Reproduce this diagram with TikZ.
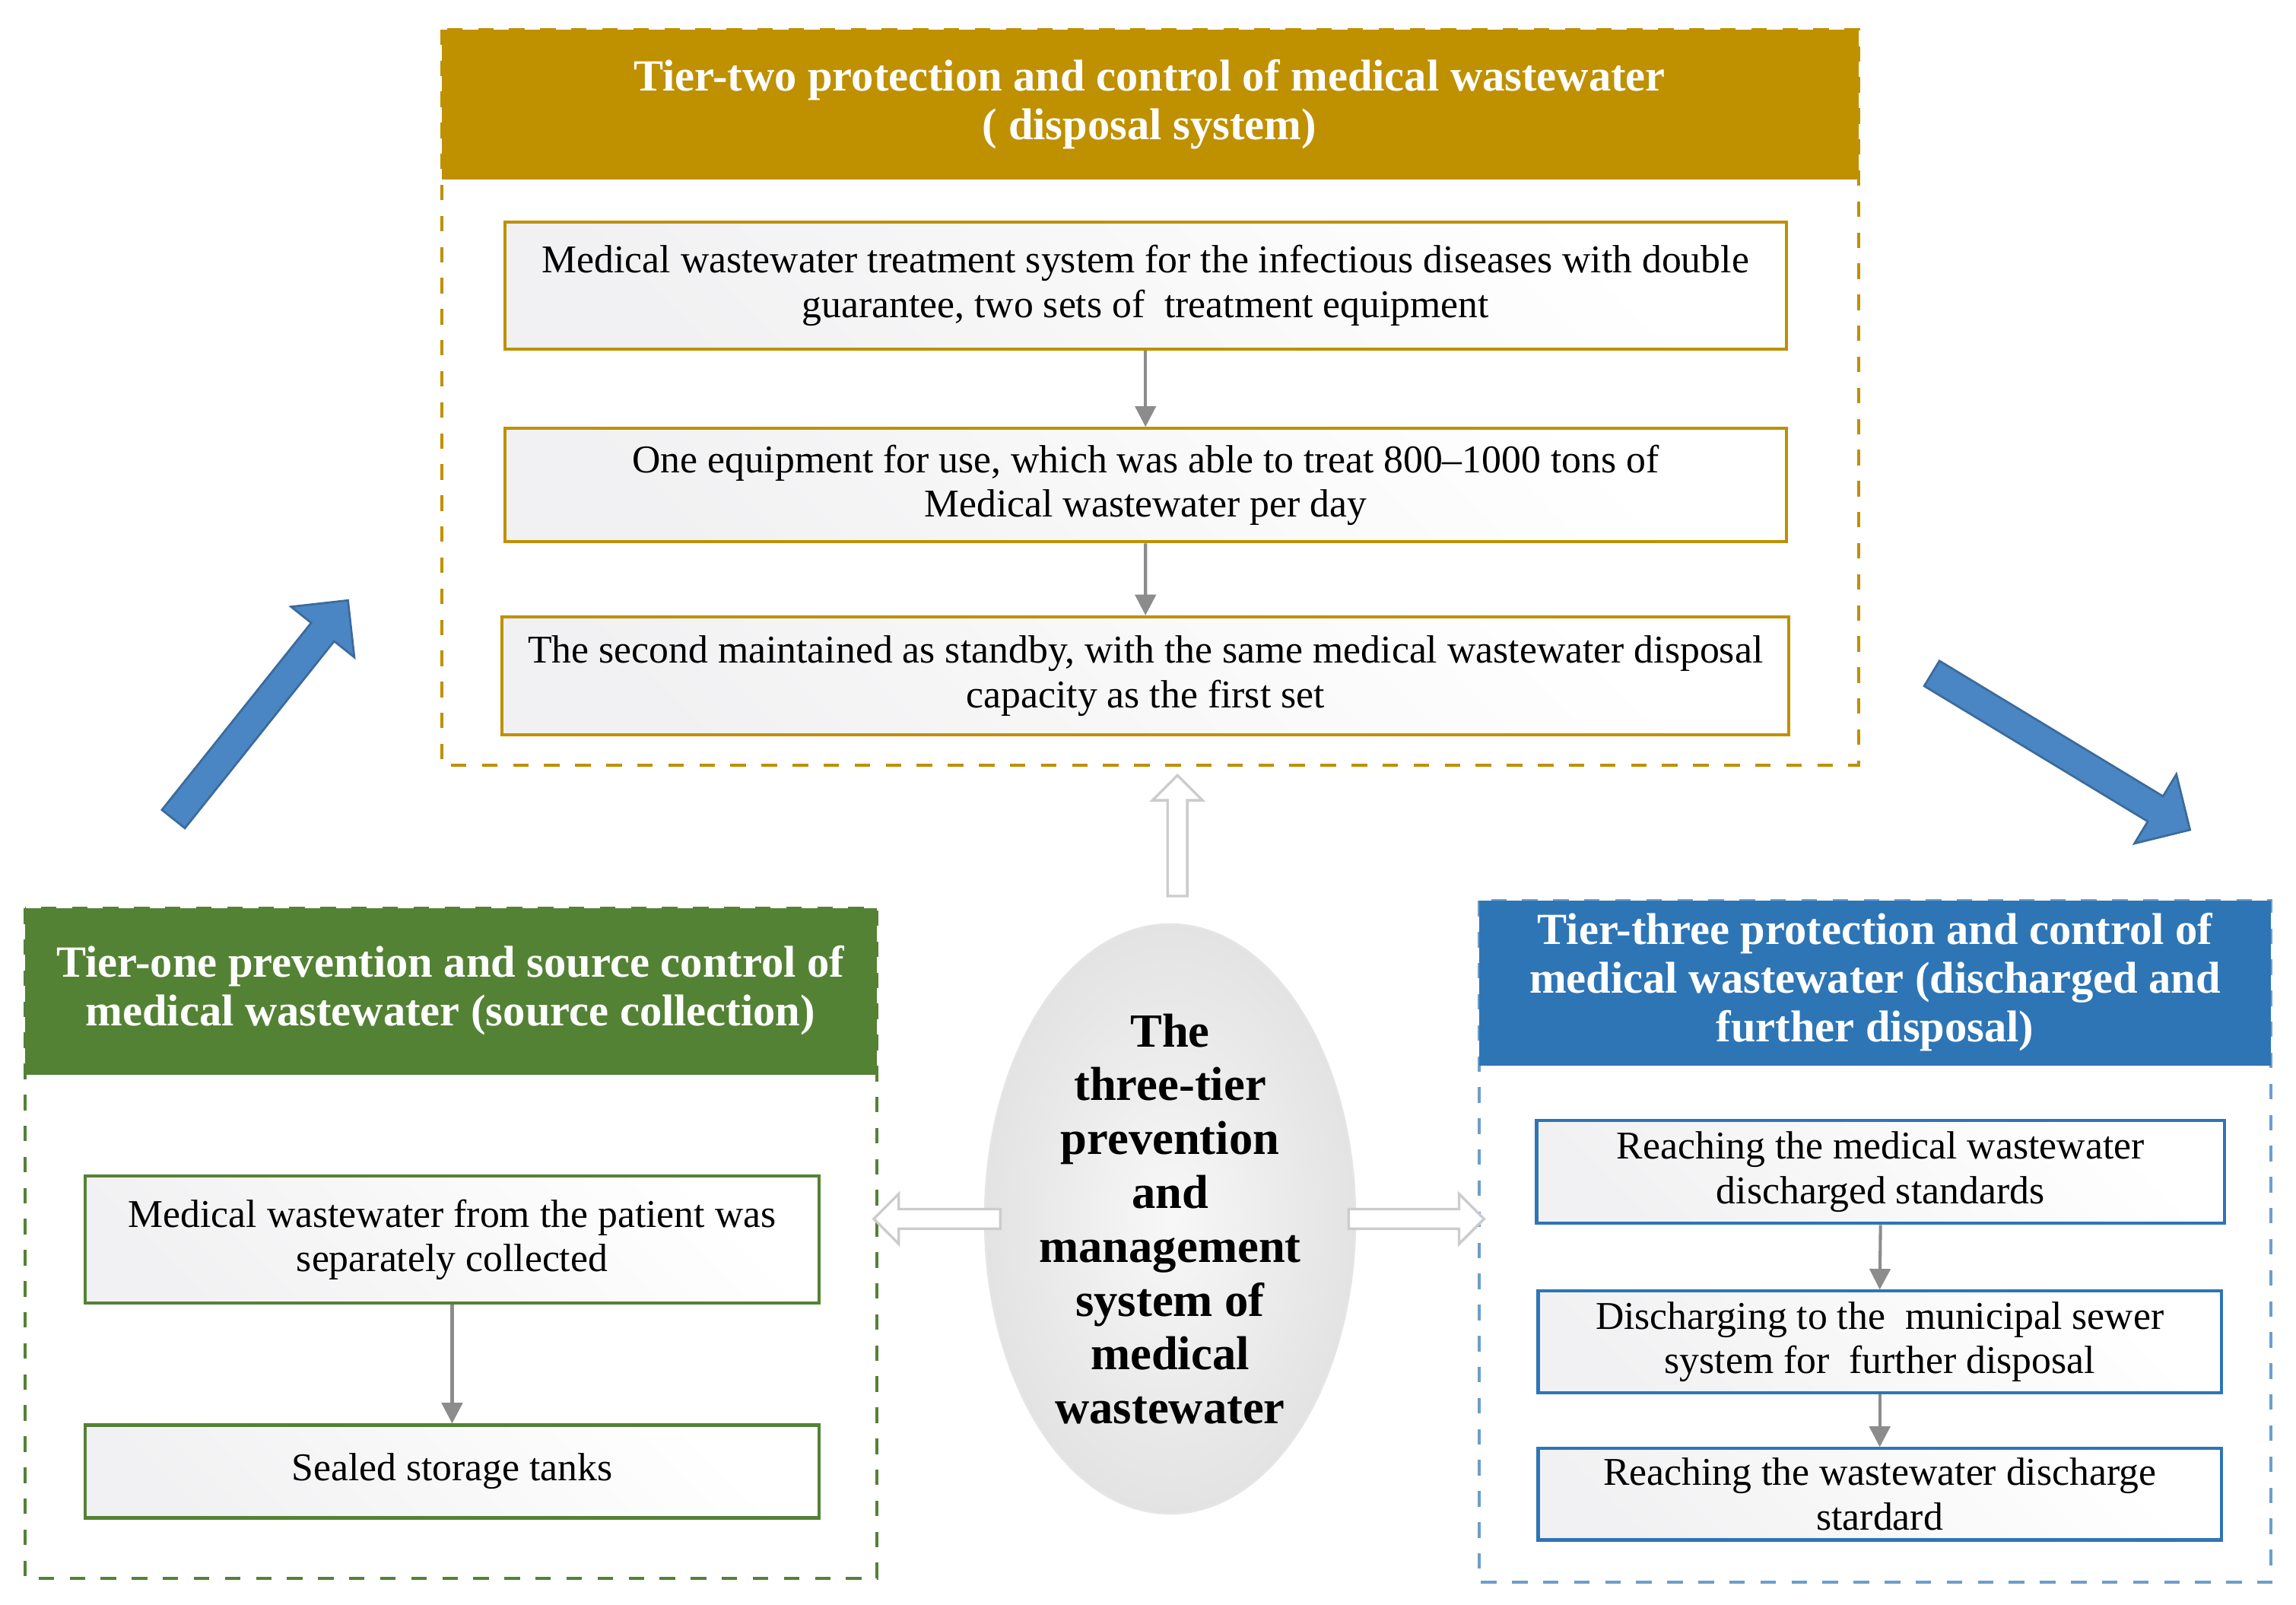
\documentclass[tikz,border=0pt]{standalone}
\usepackage{fontspec}
\setmainfont{Liberation Serif}
\usetikzlibrary{shapes.arrows,shapes.geometric,arrows.meta}
\definecolor{gold}{HTML}{BF9000}
\definecolor{grn}{HTML}{548235}
\definecolor{blu}{HTML}{2E75B6}
\definecolor{ablue}{HTML}{4A86C3}
\begin{document}
\begin{tikzpicture}[x=0.01cm,y=-0.01cm,
  inner/.style={draw=#1,line width=0.6pt,left color=blue!6!gray!10,right color=white,shading angle=135,align=center,font=\fontsize{7.6}{8.6}\selectfont,anchor=north west,inner sep=0},
  frame/.style={draw=#1,dashed,line width=0.6pt},
  htxt/.style={text=white,font=\bfseries\fontsize{8.6}{9.4}\selectfont,align=center},
  ga/.style={-{Triangle[length=4pt,width=4pt]},draw=gray!90,line width=0.6pt},
  hollow/.style={single arrow,draw=gray!40,fill=white,line width=0.5pt,minimum height=#1,minimum width=0.34cm,single arrow head extend=0.06cm,inner sep=0.03cm},
  bigarr/.style={single arrow,fill=ablue,draw=ablue!80!black,minimum width=0.55cm,single arrow head extend=0.1cm,inner sep=0.05cm}
]
\useasboundingbox (0,0) rectangle (1560,1090);
% top
\draw[frame=gold] (300,20) rectangle (1263,520);
\fill[gold] (300,20) rectangle (1263,122);
\node[htxt] (th) at (781,71) {Tier-two protection and control of medical wastewater\\( disposal system)};
\node[inner=gold,minimum width=8.70cm,minimum height=0.86cm] (t1) at (342,150) {Medical wastewater treatment system for the infectious diseases with double\\guarantee, two sets of\ \ treatment equipment};
\node[inner=gold,minimum width=8.70cm,minimum height=0.77cm] (t2) at (342,290) {One equipment for use, which was able to treat 800--1000 tons of\\Medical wastewater per day};
\node[inner=gold,minimum width=8.74cm,minimum height=0.80cm] (t3) at (340,418) {The second maintained as standby, with the same medical wastewater disposal\\capacity as the first set};
\draw[ga] (t1.south) -- (t2.north);
\draw[ga] (t2.south) -- (t3.north);
% left
\draw[frame=grn] (17,617) rectangle (596,1072);
\fill[grn] (17,617) rectangle (596,730);
\node[htxt] (lh) at (306,673) {Tier-one prevention and source control of\\medical wastewater (source collection)};
\node[inner=grn,minimum width=4.98cm,minimum height=0.86cm] (l1) at (57,798) {Medical wastewater from the patient was\\separately collected};
\node[inner=grn,minimum width=4.98cm,minimum height=0.63cm] (l2) at (57,967) {Sealed storage tanks};
\draw[ga] (l1.south) -- (l2.north);
% right
\draw[frame=blu!70] (1005,612) rectangle (1543,1075);
\fill[blu] (1005,612) rectangle (1543,724);
\node[htxt] (rh) at (1274,667) {Tier-three protection and control of\\medical wastewater (discharged and\\further disposal)};
\node[inner=blu,minimum width=4.67cm,minimum height=0.70cm] (r1) at (1043,760) {Reaching the medical wastewater\\discharged standards};
\node[inner=blu,minimum width=4.64cm,minimum height=0.69cm] (r2) at (1044,876) {Discharging to the\ \ municipal sewer\\system for\ \ further disposal};
\node[inner=blu,minimum width=4.64cm,minimum height=0.62cm] (r3) at (1044,983) {Reaching the wastewater discharge\\stardard};
\draw[ga] (r1.south) -- (r2.north);
\draw[ga] (r2.south) -- (r3.north);
% center ellipse
\node[ellipse,minimum width=2.26cm,minimum height=4.0cm,inner sep=0,draw=gray!20,inner color=gray!6,outer color=gray!22,align=center,font=\bfseries\fontsize{9.2}{10.4}\selectfont] (e) at (795,828) {The\\three-tier\\prevention\\and\\management\\system of\\medical\\wastewater};
\node[hollow=0.82cm,rotate=90] (au) at (800,571) {};
\node[hollow=0.86cm,rotate=180] (al) at (640,828) {};
\node[hollow=0.92cm] (ar) at (959,828) {};
% big arrows
\node[bigarr,minimum height=1.90cm,rotate=51.4] (b1) at (174,486) {};
\node[bigarr,minimum height=2.05cm,rotate=-31.2] (b2) at (1396,508) {};
\end{tikzpicture}
\end{document}
